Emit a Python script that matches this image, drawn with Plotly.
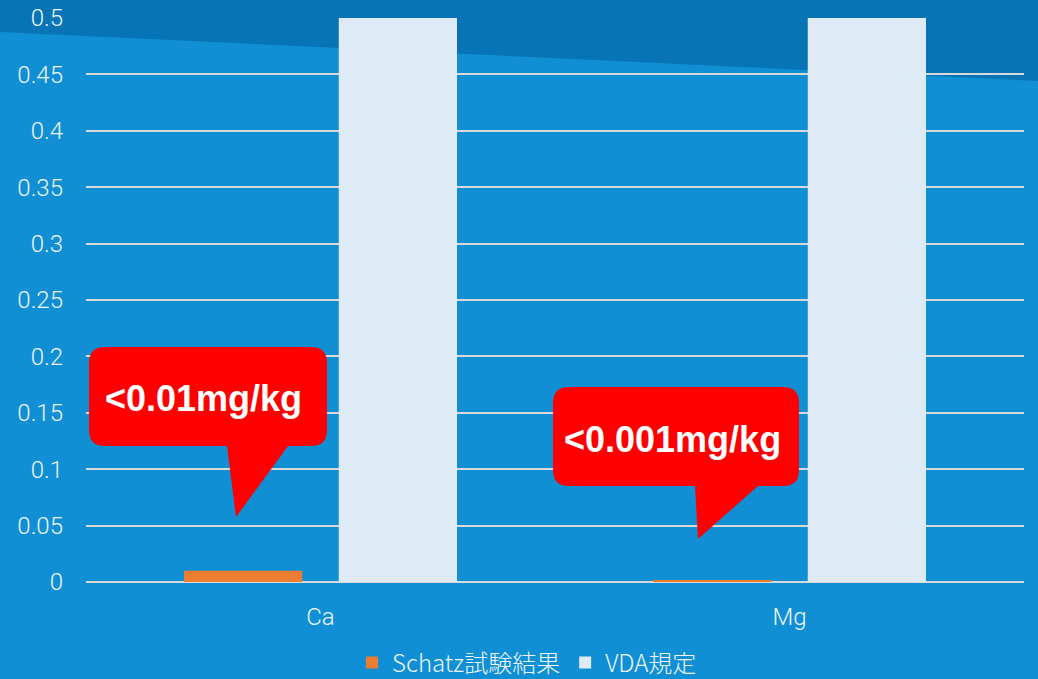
import plotly.graph_objects as go

categories = ["Ca", "Mg"]
schatz_values = [0.01, 0.001]
vda_values = [0.5, 0.5]
callout_texts = ["<0.01mg/kg", "<0.001mg/kg"]
y_ticks = [0, 0.05, 0.1, 0.15, 0.2, 0.25, 0.3, 0.35, 0.4, 0.45, 0.5]
y_tick_labels = ["0", "0.05", "0.1", "0.15", "0.2", "0.25", "0.3", "0.35", "0.4", "0.45", "0.5"]

W, H = 1038, 679
ML, MR, MT, MB = 86, 14, 18, 97
PW, PH = W - ML - MR, H - MT - MB

def px(x):
    return (x - ML) / PW

def py(y):
    return (H - MB - y) / PH

LIGHT_BG = "#108fd4"
DARK_BAND = "#0775b5"
ORANGE = "#ed7d31"
PALE = "#deebf7"
RED = "#ff0000"
TXT = "#eef5fb"

fig = go.Figure()
fig.add_trace(go.Bar(name="Schatz試験結果", x=categories, y=schatz_values,
                     marker=dict(color=ORANGE, line=dict(width=0))))
fig.add_trace(go.Bar(name="VDA規定", x=categories, y=vda_values,
                     marker=dict(color=PALE, line=dict(width=0))))

shapes = []
# dark diagonal band at the top
shapes.append(dict(type="path", xref="paper", yref="paper", layer="below",
                   path=f"M {px(0)},{py(0)} L {px(W)},{py(0)} L {px(W)},{py(81)} L {px(0)},{py(32)} Z",
                   fillcolor=DARK_BAND, line=dict(width=0)))

def callout(x0, y0, x1, y1, r, t0, t1, tipx, tipy):
    p = (f"M {px(x0 + r)},{py(y0)} L {px(x1 - r)},{py(y0)} "
         f"Q {px(x1)},{py(y0)} {px(x1)},{py(y0 + r)} "
         f"L {px(x1)},{py(y1 - r)} Q {px(x1)},{py(y1)} {px(x1 - r)},{py(y1)} "
         f"L {px(t1)},{py(y1)} L {px(tipx)},{py(tipy)} L {px(t0)},{py(y1)} "
         f"L {px(x0 + r)},{py(y1)} Q {px(x0)},{py(y1)} {px(x0)},{py(y1 - r)} "
         f"L {px(x0)},{py(y0 + r)} Q {px(x0)},{py(y0)} {px(x0 + r)},{py(y0)} Z")
    return dict(type="path", xref="paper", yref="paper", layer="above", path=p,
                fillcolor=RED, line=dict(width=0))

shapes.append(callout(89, 347, 327, 446, 16, 227, 288, 236, 517))
shapes.append(callout(553, 387, 799, 486, 16, 695, 758, 698, 539))

annotations = [
    dict(xref="paper", yref="paper", x=px(203), y=py(398), text=callout_texts[0],
         showarrow=False, font=dict(family="Liberation Sans, Arial", size=36, color="white", weight="bold"),
         xanchor="center", yanchor="middle"),
    dict(xref="paper", yref="paper", x=px(672), y=py(439), text=callout_texts[1],
         showarrow=False, font=dict(family="Liberation Sans, Arial", size=36, color="white", weight="bold"),
         xanchor="center", yanchor="middle"),
]

fig.update_layout(
    width=W, height=H,
    margin=dict(l=ML, r=MR, t=MT, b=MB, pad=0, autoexpand=False),
    paper_bgcolor=LIGHT_BG, plot_bgcolor="rgba(0,0,0,0)",
    barmode="group", bargap=0.34, bargroupgap=0.236,
    font=dict(family="Roboto, Noto Sans CJK JP", color=TXT, size=24, weight=300),
    shapes=shapes, annotations=annotations,
    showlegend=True,
    legend=dict(orientation="h", x=px(352), xanchor="left", y=py(663), yanchor="middle",
                font=dict(family="Noto Sans CJK JP, Roboto", size=24, color=TXT, weight=300),
                bgcolor="rgba(0,0,0,0)", itemsizing="constant", itemwidth=30),
    xaxis=dict(showgrid=False, showline=False, zeroline=False, ticks="",
               tickfont=dict(size=24, color=TXT), ticklabelstandoff=18),
    yaxis=dict(range=[0, 0.5], tickvals=y_ticks, ticktext=y_tick_labels,
               showgrid=True, gridcolor="#d9d9d9", gridwidth=2,
               zeroline=True, zerolinecolor="#d9d9d9", zerolinewidth=2,
               showline=False, ticks="", ticklabelstandoff=22,
               tickfont=dict(size=24, color=TXT)),
)

fig.write_html("out.html", config={"displayModeBar": False},
               post_script="document.body.style.margin='0';document.body.style.overflow='hidden';")
